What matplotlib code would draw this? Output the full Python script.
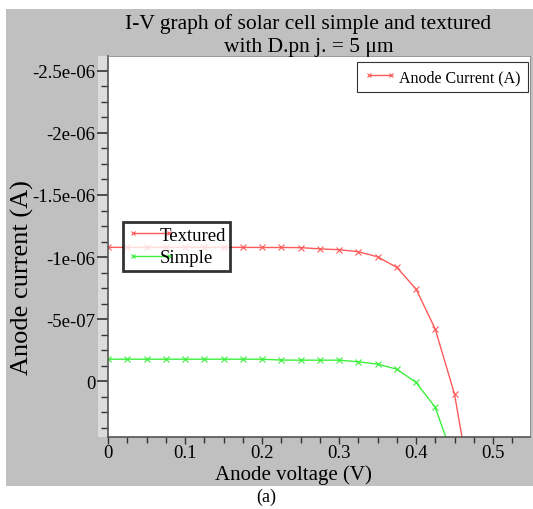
import matplotlib
matplotlib.use("Agg")
import matplotlib.pyplot as plt
from matplotlib.lines import Line2D
from matplotlib.patches import Rectangle
from matplotlib.ticker import MultipleLocator, FixedLocator

# Anode voltage (V), sampled every 25 mV
voltage = [0.0, 0.025, 0.05, 0.075, 0.1, 0.125, 0.15, 0.175, 0.2, 0.225,
           0.25, 0.275, 0.3, 0.325, 0.35, 0.375, 0.4, 0.425, 0.45, 0.475]

# Anode current (A) - textured cell
textured = [-1.078e-6, -1.078e-6, -1.078e-6, -1.078e-6, -1.078e-6, -1.078e-6,
            -1.078e-6, -1.078e-6, -1.077e-6, -1.077e-6, -1.076e-6, -1.066e-6,
            -1.059e-6, -1.043e-6, -1.002e-6, -0.917e-6, -0.742e-6, -0.419e-6,
            0.105e-6, 1.0e-6]

# Anode current (A) - simple cell (last point runs off the axis)
voltage_simple = voltage[:19]
simple = [-0.177e-6, -0.177e-6, -0.177e-6, -0.177e-6, -0.177e-6, -0.177e-6,
          -0.177e-6, -0.177e-6, -0.177e-6, -0.170e-6, -0.169e-6, -0.169e-6,
          -0.169e-6, -0.156e-6, -0.137e-6, -0.097e-6, 0.010e-6, 0.212e-6,
          0.65e-6]

xticks = [0, 0.1, 0.2, 0.3, 0.4, 0.5]
xtick_labels = ["0", "0.1", "0.2", "0.3", "0.4", "0.5"]
yticks = [-2.5e-6, -2e-6, -1.5e-6, -1e-6, -5e-7, 0]
ytick_labels = ["-2.5e-06", "-2e-06", "-1.5e-06", "-1e-06", "-5e-07", "0"]

RED = "#ff5a5a"
GREEN = "#3cf03c"
BG = "#c0c0c0"

plt.rcParams["font.family"] = ["Liberation Serif", "DejaVu Serif"]

fig = plt.figure(figsize=(5.33, 5.10), dpi=100)
fig.patch.set_facecolor("white")
fig.patches.append(Rectangle((6 / 533, 1 - 487 / 510), 1 - 6 / 533, (487 - 10) / 510,
                             transform=fig.transFigure, facecolor=BG,
                             edgecolor="none", zorder=-10))

ax = fig.add_axes([108 / 533, 1 - 438 / 510, 422 / 533, (438 - 57) / 510])
ax.set_facecolor("white")

ax.plot(voltage, textured, color=RED, lw=1.0, marker="x", ms=4, mew=0.8)
ax.plot(voltage_simple, simple, color=GREEN, lw=1.0, marker="x", ms=4, mew=0.8)

ax.set_xlim(0, 0.548)
ax.set_ylim(0.45e-6, -2.62e-6)

ax.xaxis.set_major_locator(FixedLocator(xticks))
ax.set_xticklabels(xtick_labels)
ax.xaxis.set_minor_locator(MultipleLocator(0.025))
ax.yaxis.set_major_locator(FixedLocator(yticks))
ax.set_yticklabels(ytick_labels)
ax.yaxis.set_minor_locator(MultipleLocator(0.125e-6))

ax.tick_params(axis="both", which="both", direction="out", colors="#333333",
               labelcolor="black", labelsize=13.5)
ax.tick_params(axis="y", which="major", length=8, width=1.2, pad=1)
ax.tick_params(axis="y", which="minor", length=5, width=1.0)
ax.tick_params(axis="x", which="major", length=5, width=1.0, pad=0)
ax.tick_params(axis="x", which="minor", length=4, width=1.0)

for side in ["top", "right"]:
    ax.spines[side].set_color("#888888")
    ax.spines[side].set_linewidth(0.6)
for side in ["left", "bottom"]:
    ax.spines[side].set_color("#555555")
    ax.spines[side].set_linewidth(1.2)

# light strip behind the y ticks
ax.add_patch(Rectangle((-0.024, 0), 0.024, 1, transform=ax.transAxes,
                       facecolor="#dcdcdc", edgecolor="none", clip_on=False,
                       zorder=-1))

ax.set_title("I-V graph of solar cell simple and textured\nwith D.pn j. = 5 \u03bcm",
             fontsize=15.5, linespacing=1.25, pad=-1, x=0.475)
ax.set_xlabel("Anode voltage (V)", fontsize=15)
ax.xaxis.set_label_coords(0.44, -0.072)
ax.set_ylabel("Anode current (A)", fontsize=19)
ax.yaxis.set_label_coords(-0.175, 0.42)

h1 = Line2D([], [], color=RED, lw=1.0, marker="x", ms=3.5, mew=0.8)
leg1 = ax.legend([h1], ["Anode Current (A)"], loc="upper right",
                 bbox_to_anchor=(0.995, 0.985), numpoints=2, fontsize=11.5,
                 frameon=True, fancybox=False, edgecolor="black",
                 handlelength=2.0, handletextpad=0.2, borderpad=0.45,
                 borderaxespad=0)
leg1.get_frame().set_linewidth(0.8)
ax.add_artist(leg1)

h_t = Line2D([], [], color=RED, lw=1.0, marker="x", ms=3.5, mew=0.8)
h_s = Line2D([], [], color=GREEN, lw=1.0, marker="x", ms=3.5, mew=0.8)
leg2 = ax.legend([h_t, h_s], ["Textured", "Simple"], loc="upper left",
                 bbox_to_anchor=(0.035, 0.565), numpoints=2, fontsize=13.5,
                 frameon=True, fancybox=False, edgecolor="black",
                 handlelength=2.5, handletextpad=-0.8, borderpad=0.25,
                 labelspacing=0.3, borderaxespad=0)
leg2.get_frame().set_linewidth(2.0)

fig.text(0.5, 1 - 497 / 510, "(a)", ha="center", va="center", fontsize=13)

fig.savefig("out.png", dpi=100)
